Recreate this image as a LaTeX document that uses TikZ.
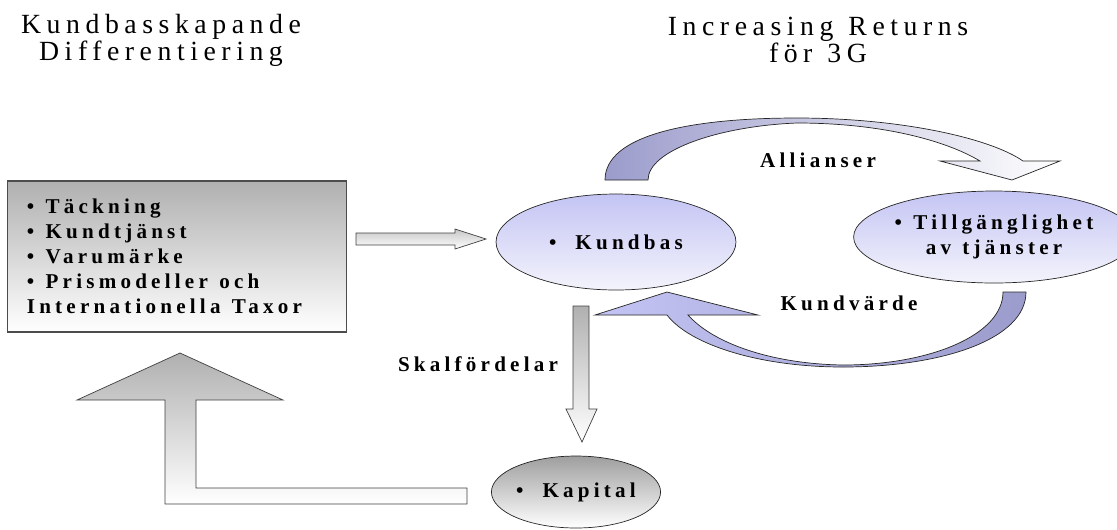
\documentclass[tikz,border=0pt]{standalone}
\usepackage{fontspec}
\setmainfont{Liberation Serif}
\newfontfamily\widefont[LetterSpace=20, WordSpace=1.2]{Liberation Serif}
\usetikzlibrary{positioning, shapes.geometric}
\definecolor{arcdark}{HTML}{9C9CCC}
\definecolor{ovaltop}{HTML}{C4C4F4}
\definecolor{ovalbot}{HTML}{F4F4FC}
\definecolor{boxgray}{HTML}{B0B0B0}
\newcommand{\lblfont}{\widefont\bfseries\fontsize{12pt}{14.3pt}\selectfont}
\newcommand{\ttlfont}{\widefont\fontsize{15.8pt}{15.3pt}\selectfont}
\tikzset{ttl/.style={inner sep=0, align=center, font=\ttlfont}}
\tikzset{lbl/.style={inner sep=0, font=\lblfont}}
\tikzset{oval/.style={ellipse, draw=black!85, line width=0.4pt, inner sep=0, align=center, font=\lblfont, top color=ovaltop, bottom color=ovalbot}}
\tikzset{grayoval/.style={oval, top color=boxgray!90!black, bottom color=white}}
\tikzset{infobox/.style={draw=black!70, line width=0.6pt, top color=boxgray, bottom color=white, minimum width=6.8cm, minimum height=3.02cm}}
\tikzset{boxtext/.style={inner sep=0, align=left, font=\lblfont}}
\tikzset{blockarr/.style={draw=black!75, line width=0.4pt, top color=boxgray, bottom color=white}}
\tikzset{arcarr/.style={draw=black!85, line width=0.4pt}}
\begin{document}
\begin{tikzpicture}[x=0.02cm, y=-0.02cm]
  \useasboundingbox (0,0) rectangle (1117,529);
  % titles
  \node[ttl] (ttldiff) at (161,40) {Kundbasskapande\\Differentiering};
  \node[ttl] (ttlreturns) at (818,40) {Increasing Returns\\för 3G};
  %
  \node[infobox] (diff) at (177,256.5) {};
  \node[boxtext, anchor=west] (difftext) at ([xshift=0.4cm]diff.west)
    {• Täckning\\• Kundtjänst\\• Varumärke\\• Prismodeller och\\Internationella Taxor};
  \node[oval, minimum width=4.8cm, minimum height=1.92cm] (kundbas) at (616,242) {•\hspace{0.9em}Kundbas};
  \node[oval, minimum width=4.8cm, minimum height=1.84cm] (tillgang) at (994,237) {• Tillgänglighet\\av tjänster};
  \node[grayoval, minimum width=3.22cm, minimum height=1.44cm] (kapital) at (576,492) {•\hspace{0.9em}Kapital};
  %
  \node[lbl] (allianser) at (818,160) {Allianser};
  \node[lbl] (kundvarde) at (849,303) {Kundvärde};
  \node[lbl] (skalford) at (478,364) {Skalfördelar};
  %
  % diff -> kundbas
  \draw[blockarr, top color=black!22] (356,233) -- (455,233) -- (455,229) -- (486,239)
    -- (455,249) -- (455,245) -- (356,245) -- cycle;
  % kundbas -> kapital
  \draw[blockarr] (573,306) -- (589,306) -- (589,409) -- (597,409) -- (582,442)
    -- (566,409) -- (573,409) -- cycle;
  % kapital -> diff
  \draw[blockarr] (180,353) -- (283,400) -- (196,400) -- (196,488) -- (467,488)
    -- (467,504) -- (165,504) -- (165,400) -- (77,400) -- cycle;
  % kundbas -> tillgang (Allianser)
  \draw[arcarr, left color=arcdark, middle color=ovaltop!70, right color=white]
    (605,180) .. controls (605,135) and (690,118) .. (797,118)
    .. controls (900,118) and (990,138) .. (1023,161)
    -- (1060,161) -- (1012,180) -- (940,161) -- (980,161)
    .. controls (945,140) and (880,123) .. (797,123)
    .. controls (720,126) and (648,150) .. (648,180) -- cycle;
  % tillgang -> kundbas (Kundvärde)
  \draw[arcarr, left color=ovaltop, middle color=white, right color=arcdark]
    (1026,292) .. controls (1026,340) and (940,367) .. (843,367)
    .. controls (760,367) and (690,345) .. (667,315)
    -- (595,315) -- (667,292) -- (758,315) -- (688,315)
    .. controls (715,345) and (775,364) .. (843,365)
    .. controls (930,365) and (1003,335) .. (1003,292) -- cycle;
\end{tikzpicture}
\end{document}
